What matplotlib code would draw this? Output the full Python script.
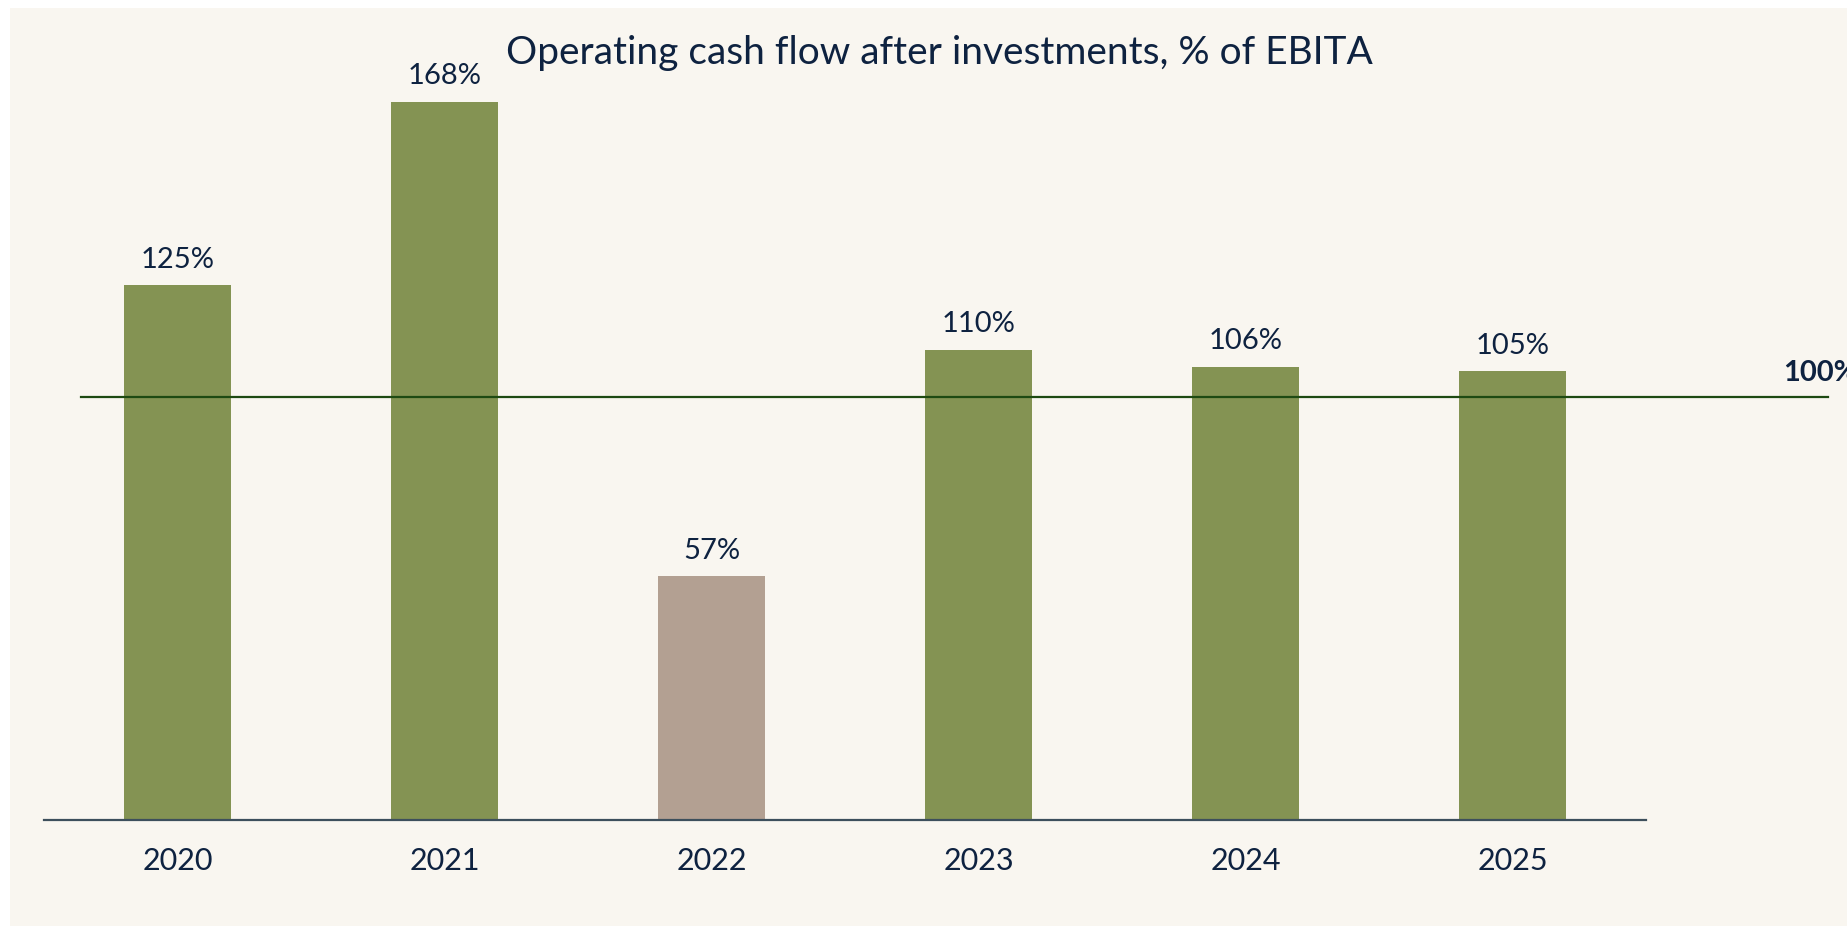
import matplotlib
matplotlib.use("Agg")
import matplotlib.pyplot as plt
from matplotlib.patches import Rectangle

years = ["2020", "2021", "2022", "2023", "2024", "2025"]
values = [125, 168, 57, 110, 106, 105]
labels = ["125%", "168%", "57%", "110%", "106%", "105%"]
bar_colors = ["#849353", "#849353", "#b3a092", "#849353", "#849353", "#849353"]
ref_value = 99
ref_label = "100%"
title = "Operating cash flow after investments, % of EBITA"

plt.rcParams['font.family'] = ['Lato', 'DejaVu Sans']
navy = "#0e2240"

W, H = 1847, 928
fig = plt.figure(figsize=(W / 100, H / 100), dpi=100)
fig.patch.set_facecolor("white")
fig.patches.append(Rectangle((10 / W, 1 / H), 1 - 10 / W, (H - 10) / H,
                             transform=fig.transFigure, facecolor="#f9f6f0",
                             edgecolor="none", zorder=-10))

ax = fig.add_axes([44 / W, 107 / H, (1646 - 44) / W, (821 - 51.3) / H])
ax.set_facecolor("none")
x = list(range(len(years)))
ax.bar(x, values, width=0.4, color=bar_colors, zorder=2)
ax.set_xlim(-0.5, 5.5)
ax.set_ylim(0, 180)

for xi, v, lab in zip(x, values, labels):
    ax.annotate(lab, (xi, v), xytext=(0, 19), textcoords="offset points",
                ha="center", va="center", fontsize=21, color=navy)

# reference line extending beyond the axes
ax.plot([-0.361, 6.18], [ref_value, ref_value], color="#1e4a12", lw=1.6,
        clip_on=False, zorder=3)
ax.annotate(ref_label, (6.015, ref_value), xytext=(0, 18), textcoords="offset points",
            ha="left", va="center", fontsize=21, fontweight="bold", color=navy,
            annotation_clip=False)

ax.set_xticks(x)
ax.set_xticklabels(years, fontsize=22, color=navy)
ax.tick_params(axis="x", length=0, pad=19)
ax.set_yticks([])
for s in ["top", "right", "left"]:
    ax.spines[s].set_visible(False)
ax.spines["bottom"].set_color("#3d4f5c")
ax.spines["bottom"].set_linewidth(1.6)

fig.text(939 / W, 1 - 53 / H, title, ha="center", va="center",
         fontsize=28, color=navy)

fig.savefig("out.png", dpi=100)
